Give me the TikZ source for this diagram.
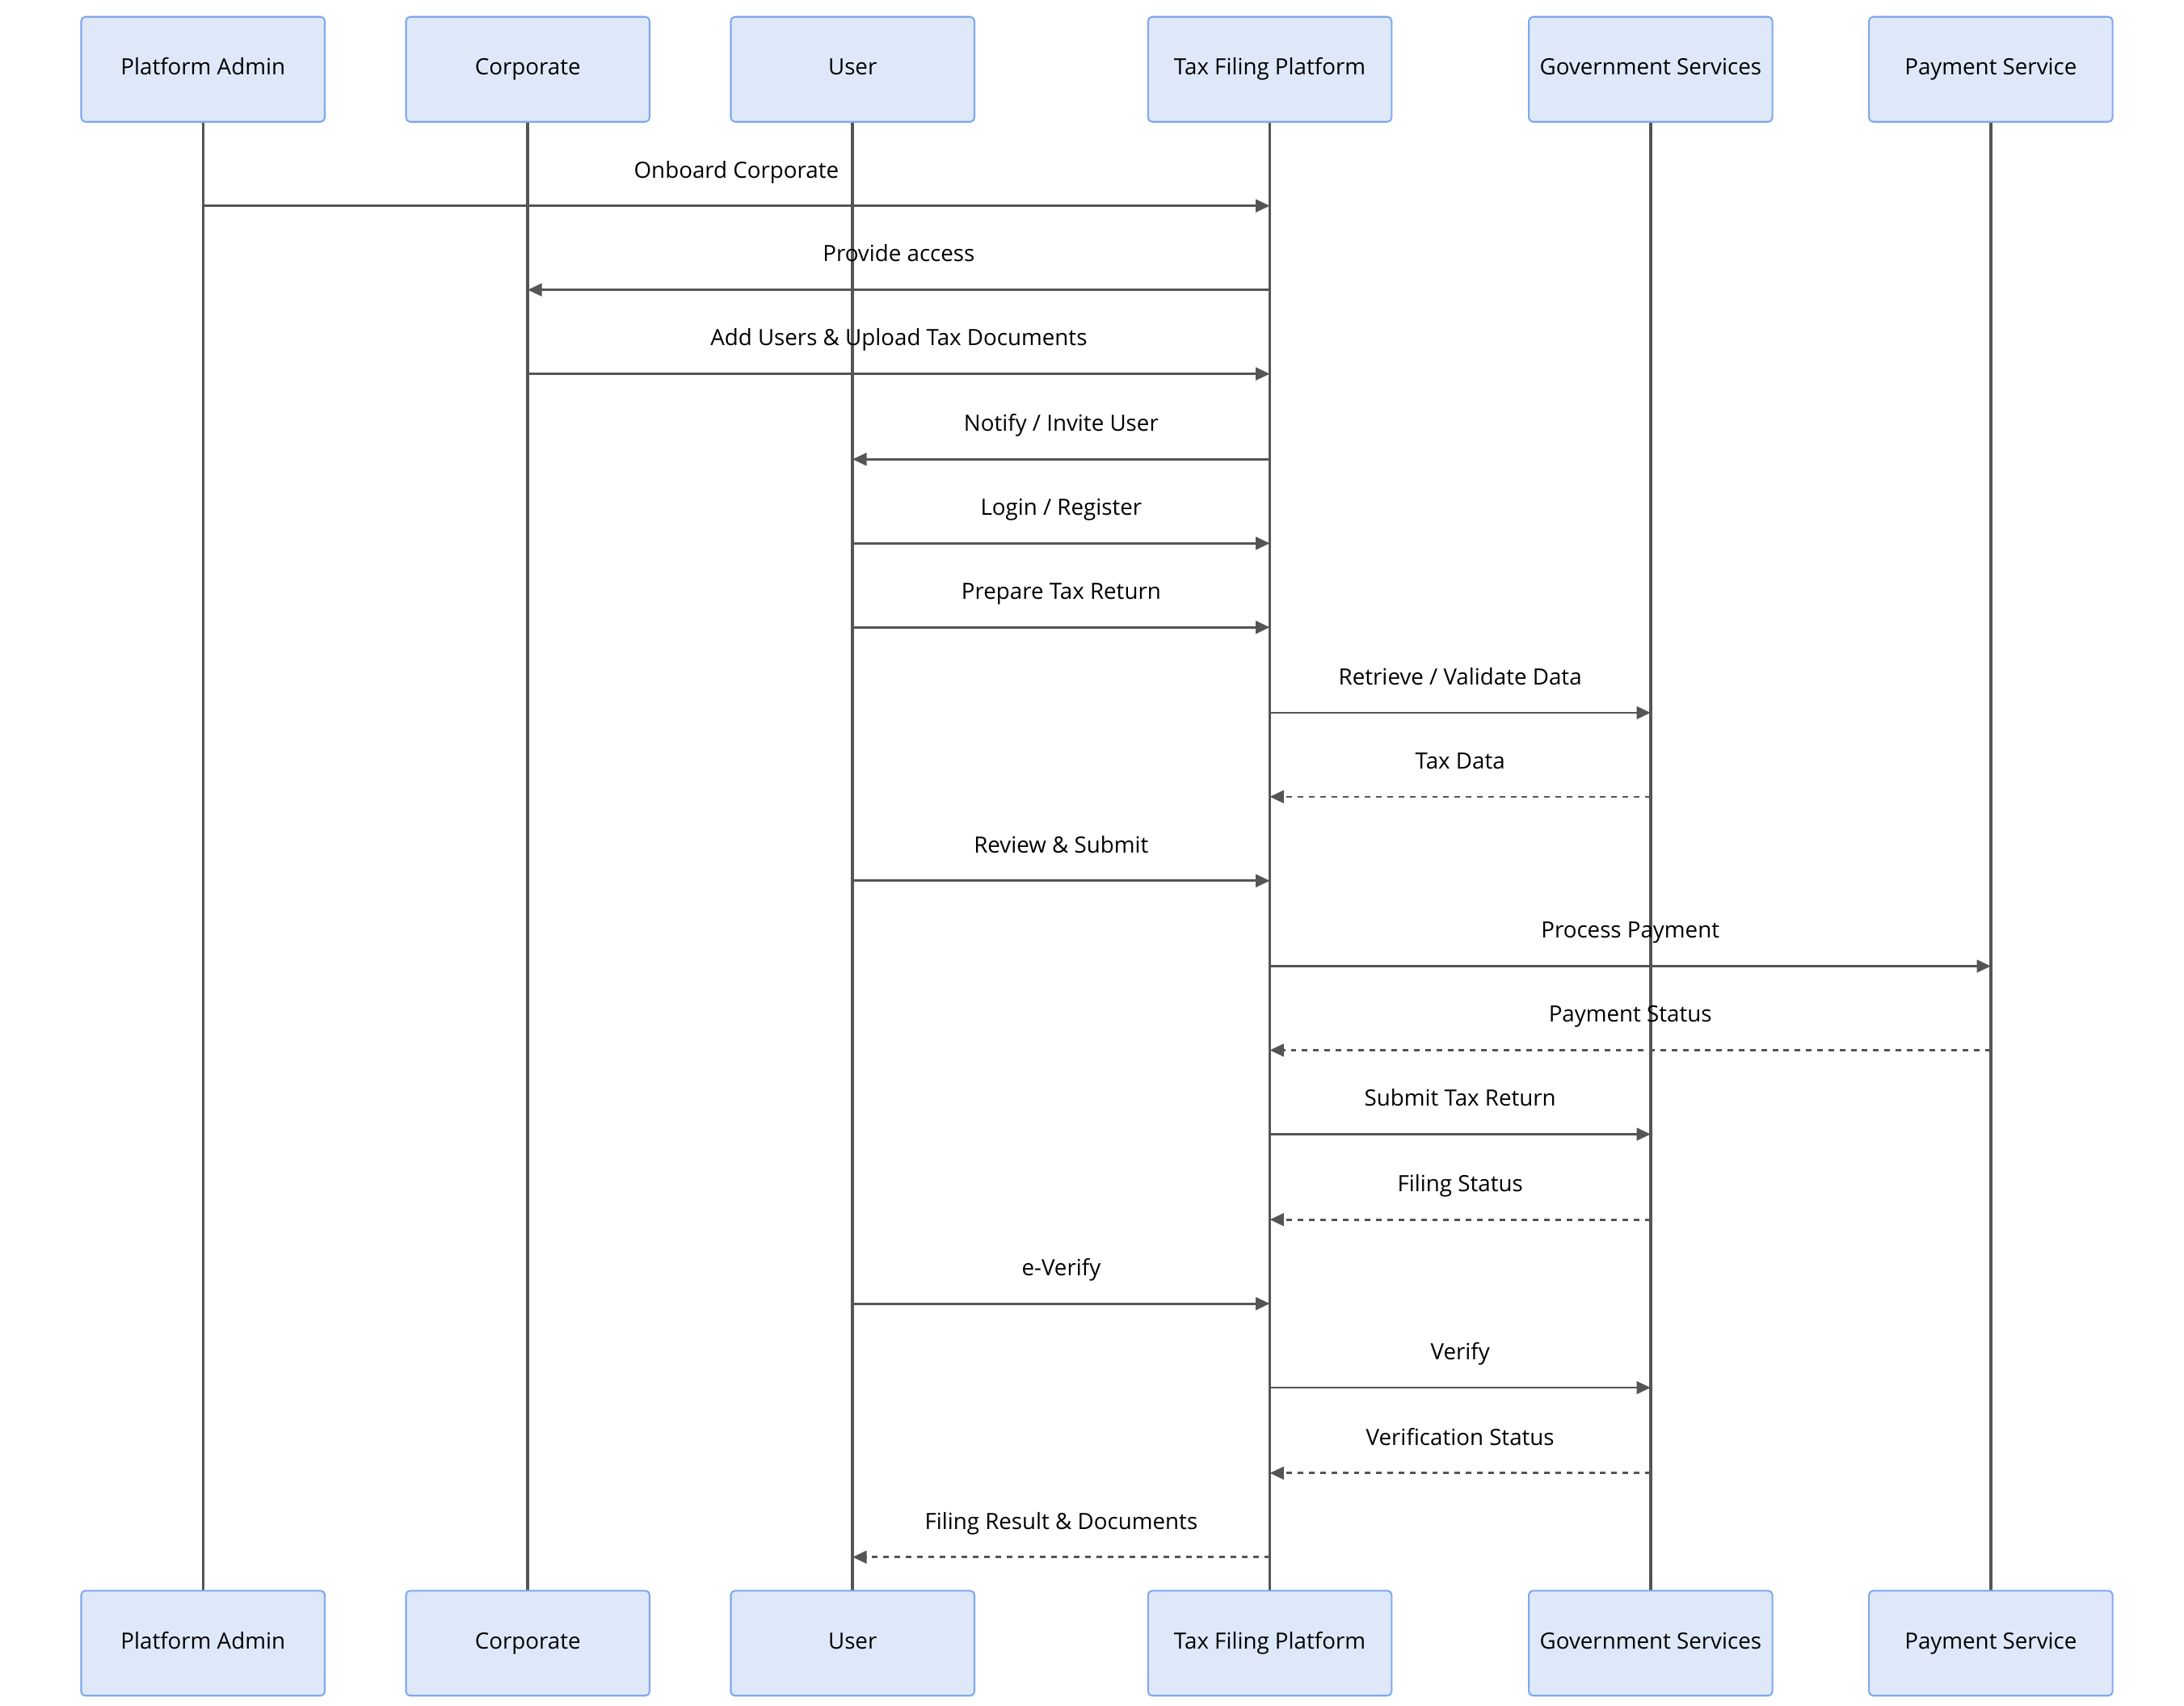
\documentclass[tikz,border=0pt]{standalone}
\usepackage{fontspec}
\setmainfont{Open Sans}
\usetikzlibrary{arrows.meta,calc}
\definecolor{boxfill}{HTML}{DEE8F9}
\definecolor{boxline}{HTML}{7FA8EE}
\definecolor{ln}{HTML}{555555}
\begin{document}
\begin{tikzpicture}[x=0.5pt,y=-0.5pt,
  actor/.style={draw=boxline,fill=boxfill,rounded corners=1.5pt,line width=0.6pt,minimum width=87pt,minimum height=37.5pt,inner xsep=0pt,text height=6pt,text depth=2pt,font=\fontsize{8}{10}\selectfont,text=black},
  life/.style={draw=ln,line width=1pt},
  msg/.style={draw=ln,line width=0.8pt,-{Triangle[length=5pt,width=4.5pt]}},
  rep/.style={msg,dash pattern=on 2pt off 2pt},
  lab/.style={font=\fontsize{8}{10}\selectfont,text=black}]
\useasboundingbox (0,0) rectangle (1560,1218);
\foreach \n/\x/\t in {pa/145/Platform Admin,co/377/Corporate,us/609/User,tf/907/Tax Filing Platform,gs/1179/Government Services,ps/1422/Payment Service}{
  \draw[life] (\x,87) -- (\x,1136);
  \node[actor] (\n t) at (\x,49.5) {\t};
  \node[actor] (\n b) at (\x,1173.5) {\t};
}
\foreach \a/\b/\y/\t/\s in {
 pa/tf/147/{Onboard Corporate}/msg,
 tf/co/207/{Provide access}/msg,
 co/tf/267/{Add Users \& Upload Tax Documents}/msg,
 tf/us/328/{Notify / Invite User}/msg,
 us/tf/388/{Login / Register}/msg,
 us/tf/448/{Prepare Tax Return}/msg,
 tf/gs/509/{Retrieve / Validate Data}/msg,
 gs/tf/569/{Tax Data}/rep,
 us/tf/629/{Review \& Submit}/msg,
 tf/ps/690/{Process Payment}/msg,
 ps/tf/750/{Payment Status}/rep,
 tf/gs/810/{Submit Tax Return}/msg,
 gs/tf/871/{Filing Status}/rep,
 us/tf/931/{e-Verify}/msg,
 tf/gs/991/{Verify}/msg,
 gs/tf/1052/{Verification Status}/rep,
 tf/us/1112/{Filing Result \& Documents}/rep}{
  \coordinate (s) at (\a t.south |- 0,\y);
  \coordinate (e) at (\b t.south |- 0,\y);
  \draw[\s] (s) -- (e);
  \node[lab,anchor=base] at ($(s)!0.5!(e)+(0,-20)$) {\t};
}
\end{tikzpicture}
\end{document}
